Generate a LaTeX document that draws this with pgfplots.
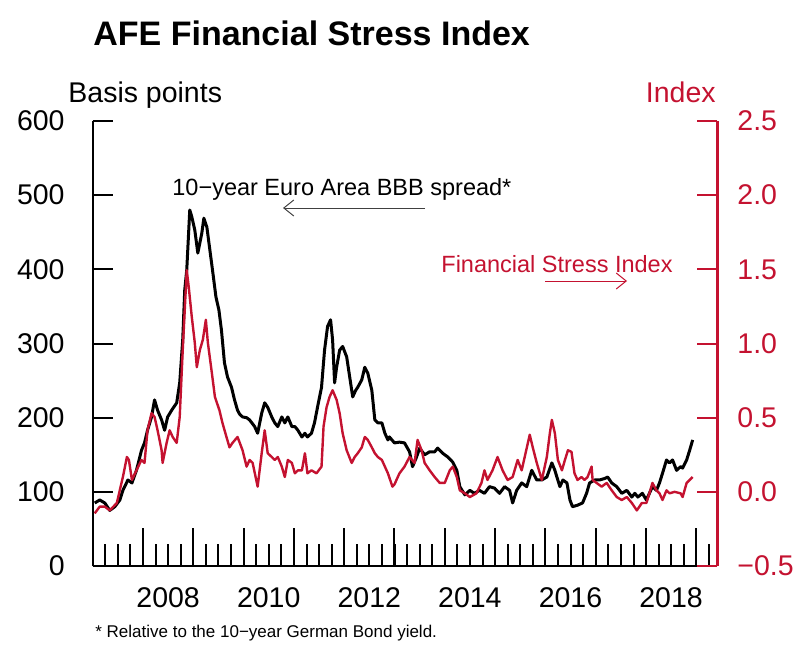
\documentclass[border=0pt]{standalone}
\usepackage{pgfplots}
\pgfplotsset{compat=1.18}
\usepackage{pgfplotstable}
\usepackage{fontspec}
\setmainfont{Liberation Sans}
\usetikzlibrary{arrows.meta}
\definecolor{fsired}{RGB}{196,18,48}

\pgfplotstableread{
year bp
2007.04 85
2007.14 89
2007.24 85
2007.34 75
2007.44 80
2007.54 89
2007.60 102
2007.70 116
2007.78 112
2007.87 129
2007.97 156
2008.03 166
2008.09 183
2008.17 201
2008.23 224
2008.29 210
2008.37 197
2008.43 183
2008.49 201
2008.57 210
2008.67 220
2008.73 247
2008.79 305
2008.83 372
2008.87 399
2008.89 426
2008.93 480
2008.97 471
2009.03 453
2009.09 422
2009.17 449
2009.21 469
2009.27 457
2009.33 426
2009.39 395
2009.45 363
2009.51 345
2009.56 318
2009.62 274
2009.68 255
2009.76 241
2009.82 224
2009.88 210
2009.92 205
2009.98 201
2010.06 200
2010.12 197
2010.22 188
2010.28 179
2010.36 206
2010.42 220
2010.48 214
2010.56 201
2010.62 193
2010.68 188
2010.76 201
2010.82 193
2010.88 201
2010.96 188
2011.02 188
2011.08 183
2011.16 174
2011.22 179
2011.27 174
2011.35 179
2011.41 193
2011.47 214
2011.55 241
2011.61 291
2011.67 323
2011.73 332
2011.77 305
2011.81 247
2011.85 268
2011.91 291
2011.97 296
2012.05 282
2012.11 255
2012.17 228
2012.23 237
2012.27 241
2012.35 251
2012.41 268
2012.47 260
2012.55 237
2012.61 197
2012.67 193
2012.75 193
2012.81 179
2012.87 170
2012.90 174
2013.00 166
2013.10 167
2013.20 166
2013.30 154
2013.36 134
2013.44 147
2013.50 159
2013.60 150
2013.70 154
2013.80 154
2013.86 159
2013.96 152
2014.06 147
2014.16 140
2014.24 129
2014.30 107
2014.40 96
2014.50 102
2014.59 98
2014.69 102
2014.79 98
2014.89 107
2014.99 105
2015.09 98
2015.19 107
2015.29 102
2015.35 85
2015.43 102
2015.53 112
2015.63 107
2015.73 129
2015.83 116
2015.93 116
2016.03 120
2016.13 139
2016.19 129
2016.23 120
2016.29 107
2016.35 116
2016.43 112
2016.49 89
2016.54 80
2016.64 82
2016.74 85
2016.82 98
2016.88 112
2016.98 116
2017.08 116
2017.18 118
2017.24 120
2017.32 112
2017.42 107
2017.52 98
2017.62 102
2017.72 93
2017.78 98
2017.84 93
2017.93 98
2018.01 89
2018.07 98
2018.13 107
2018.21 102
2018.27 112
2018.33 125
2018.41 143
2018.47 139
2018.53 143
2018.61 129
2018.69 134
2018.73 132
2018.81 143
2018.87 156
2018.93 170
}\spread

\pgfplotstableread{
year fsi
2007.04 -0.145
2007.14 -0.10
2007.24 -0.10
2007.34 -0.125
2007.48 -0.075
2007.60 0.10
2007.68 0.235
2007.72 0.215
2007.78 0.08
2007.87 0.145
2007.97 0.215
2008.03 0.195
2008.09 0.415
2008.17 0.53
2008.23 0.505
2008.29 0.415
2008.37 0.28
2008.39 0.195
2008.47 0.33
2008.53 0.415
2008.59 0.37
2008.67 0.33
2008.73 0.505
2008.79 0.955
2008.87 1.495
2008.91 1.38
2008.97 1.18
2009.03 1.005
2009.07 0.84
2009.13 0.955
2009.19 1.025
2009.25 1.16
2009.29 1.005
2009.37 0.80
2009.43 0.64
2009.52 0.55
2009.58 0.465
2009.66 0.37
2009.72 0.30
2009.78 0.33
2009.88 0.37
2009.98 0.28
2010.06 0.17
2010.12 0.215
2010.18 0.195
2010.28 0.035
2010.36 0.26
2010.42 0.415
2010.48 0.26
2010.56 0.235
2010.62 0.215
2010.68 0.235
2010.76 0.17
2010.82 0.10
2010.88 0.215
2010.96 0.195
2011.02 0.125
2011.08 0.145
2011.16 0.145
2011.22 0.26
2011.27 0.125
2011.35 0.145
2011.45 0.125
2011.55 0.17
2011.59 0.44
2011.65 0.57
2011.71 0.64
2011.77 0.685
2011.85 0.62
2011.91 0.53
2011.97 0.395
2012.05 0.28
2012.15 0.195
2012.21 0.235
2012.27 0.26
2012.35 0.30
2012.41 0.37
2012.47 0.35
2012.55 0.30
2012.61 0.26
2012.67 0.235
2012.75 0.215
2012.81 0.17
2012.87 0.125
2012.96 0.035
2013.00 0.05
2013.10 0.125
2013.20 0.17
2013.30 0.235
2013.40 0.195
2013.46 0.35
2013.54 0.28
2013.60 0.195
2013.70 0.145
2013.80 0.10
2013.90 0.06
2014.00 0.06
2014.10 0.145
2014.16 0.17
2014.24 0.10
2014.30 0.01
2014.40 -0.01
2014.50 -0.035
2014.63 -0.01
2014.73 0.06
2014.79 0.145
2014.85 0.08
2014.95 0.145
2015.05 0.235
2015.15 0.145
2015.25 0.08
2015.35 0.10
2015.45 0.215
2015.53 0.145
2015.59 0.235
2015.69 0.385
2015.75 0.30
2015.83 0.195
2015.93 0.08
2016.03 0.235
2016.09 0.395
2016.13 0.485
2016.19 0.395
2016.25 0.215
2016.33 0.145
2016.39 0.215
2016.45 0.28
2016.52 0.27
2016.58 0.125
2016.64 0.08
2016.72 0.10
2016.78 0.08
2016.84 0.10
2016.92 0.17
2016.94 0.08
2017.02 0.06
2017.12 0.035
2017.22 0.06
2017.32 0.01
2017.42 -0.035
2017.52 -0.055
2017.62 -0.035
2017.72 -0.075
2017.82 -0.125
2017.92 -0.075
2018.01 -0.075
2018.07 -0.01
2018.13 0.06
2018.21 0.01
2018.27 -0.01
2018.33 -0.055
2018.41 0.01
2018.47 -0.01
2018.57 0.0
2018.69 -0.01
2018.73 -0.035
2018.81 0.06
2018.87 0.08
2018.93 0.10
}\fsitable

\pgfplotsset{
  common/.style={
    scale only axis, width=312.3pt, height=222.5pt,
    at={(46.35pt,39pt)}, anchor=south west,
    xmin=2007, xmax=2019.42,
    tick align=inside,
  },
}

\begin{document}
\begin{tikzpicture}
\useasboundingbox (0,0) rectangle (400.5pt,322pt);

% x axis with ticks and black series
\begin{axis}[common, ymin=0, ymax=600,
  axis x line*=bottom, axis y line*=left,
  axis line style={-, line width=1.2pt, black},
  xtick={2007,...,2019}, xticklabels={},
  minor xtick={2007,2007.25,...,2019.25},
  major tick length=19pt, minor tick length=11pt,
  every tick/.style={black, line width=1pt},
  extra x ticks={2008.5,2010.5,2012.5,2014.5,2016.5,2018.5},
  extra x tick labels={2008,2010,2012,2014,2016,2018},
  extra x tick style={tick style={draw=none}},
  xticklabel style={font=\fontsize{14.25}{16}\selectfont, anchor=north, inner sep=0pt, yshift=-10.5pt},
  ytick=\empty]
\addplot[black, line width=1.5pt, line join=round] table[x=year, y=bp] {\spread};
\end{axis}

% left y axis
\begin{axis}[common, ymin=0, ymax=600,
  axis x line=none, axis y line*=left,
  axis line style={-, line width=1.2pt, black},
  xtick=\empty, ytick={0,100,...,600},
  yticklabels={0,100,200,300,400,500,600},
  major tick length=10pt,
  every tick/.style={black, line width=1pt},
  yticklabel style={font=\fontsize{14.25}{16}\selectfont, anchor=east, inner sep=0pt, xshift=-13.85pt}]
\end{axis}

% right y axis with red series
\begin{axis}[common, ymin=-0.5, ymax=2.5,
  axis x line=none, axis y line*=right,
  axis line style={-, line width=1.2pt, fsired},
  xtick=\empty, ytick={-0.5,0,...,2.5},
  yticklabels={−0.5,0.0,0.5,1.0,1.5,2.0,2.5},
  major tick length=10pt,
  every tick/.style={fsired, line width=1pt},
  yticklabel style={font=\fontsize{14.25}{16}\selectfont, text=fsired, anchor=west, inner sep=0pt, xshift=9.85pt}]
\addplot[fsired, line width=1.2pt, line join=round] table[x=year, y=fsi] {\fsitable};
\end{axis}

\node[anchor=base west, inner sep=0pt, font=\bfseries\fontsize{17}{20}\selectfont] at (46.5pt,299pt) {AFE Financial Stress Index};
\node[anchor=base west, inner sep=0pt, font=\fontsize{14.25}{16}\selectfont] at (34pt,270.5pt) {Basis points};
\node[anchor=base east, inner sep=0pt, font=\fontsize{14.25}{16}\selectfont, text=fsired] at (358pt,270.5pt) {Index};

\node[anchor=base west, inner sep=0pt, font=\fontsize{11.75}{14}\selectfont] at (86pt,224.5pt) {10−year Euro Area BBB spread*};
\draw[black!75, line width=0.5pt, -{Straight Barb[length=5pt,width=8pt]}] (212.5pt,218pt) -- (141.5pt,218pt);

\node[anchor=base west, inner sep=0pt, font=\fontsize{11.75}{14}\selectfont, text=fsired] at (220.5pt,186pt) {Financial Stress Index};
\draw[fsired, line width=0.5pt, -{Straight Barb[length=5pt,width=8pt]}] (272.5pt,181.5pt) -- (313.5pt,181.5pt);

\node[anchor=base west, inner sep=0pt, font=\fontsize{8.5}{10}\selectfont] at (47.5pt,3.5pt) {* Relative to the 10−year German Bond yield.};
\end{tikzpicture}
\end{document}
